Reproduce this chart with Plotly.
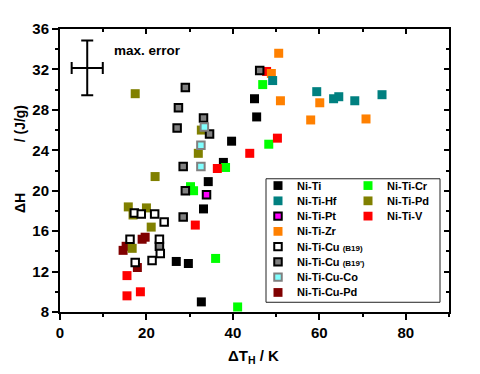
import plotly.graph_objects as go

FONT = "Liberation Sans, Arial, sans-serif"

x_range = [0, 90]
y_range = [8, 36]

# dT_H (K) and dH (J/g) per alloy family
niti_x = [45.0, 45.5, 39.7, 37.8, 34.3, 33.2, 26.9, 29.7, 32.7]
niti_y = [29.1, 27.3, 24.9, 22.8, 20.9, 18.2, 13.0, 12.8, 9.0]

hf_x = [49.2, 59.4, 63.3, 64.5, 68.2, 74.5]
hf_y = [30.9, 29.8, 29.1, 29.3, 28.9, 29.5]

pt_x = [33.9]
pt_y = [19.6]

zr_x = [50.6, 48.9, 51.0, 58.0, 60.1, 70.8]
zr_y = [33.6, 31.6, 28.9, 27.0, 28.7, 27.1]

cr_x = [46.9, 48.3, 38.3, 30.2, 30.9, 36.0, 41.1]
cr_y = [30.5, 24.6, 22.3, 20.4, 20.0, 13.3, 8.5]

pd_x = [17.4, 22.0, 32.0, 32.7, 15.8, 20.0, 16.9, 21.1, 16.7]
pd_y = [29.6, 21.4, 23.7, 26.0, 18.4, 18.3, 17.6, 16.4, 14.3]

v_x = [47.8, 50.3, 43.9, 36.4, 31.3, 15.5, 15.5, 18.6]
v_y = [31.8, 25.2, 23.7, 22.2, 16.6, 11.6, 9.6, 10.0]

cu_b19_x = [17.2, 18.8, 21.9, 24.1, 16.2, 23.0, 23.2, 21.3, 17.4]
cu_b19_y = [17.8, 17.7, 17.7, 16.9, 15.2, 15.2, 13.8, 13.1, 12.9]

cu_b19p_x = [29.0, 27.4, 27.1, 33.2, 34.6, 28.5, 29.0, 46.2, 28.5, 23.0]
cu_b19p_y = [30.2, 28.2, 26.2, 27.2, 25.6, 22.4, 20.0, 31.9, 17.4, 14.5]

cuco_x = [33.4, 32.6, 32.6]
cuco_y = [26.3, 24.5, 22.4]

cupd_x = [19.7, 19.0, 15.3, 14.6, 17.9]
cupd_y = [15.4, 15.2, 14.5, 14.1, 12.4]

# max. error cross
err_x = [6.3]
err_y = [32.15]
err_dx = [3.6]
err_dy = [2.7]

# name, x, y, fill, edge (None = no outline); drawing order
series = [
    ("Ni-Ti", niti_x, niti_y, "#000000", None),
    ("Ni-Ti-Cu-Pd", cupd_x, cupd_y, "#800000", None),
    ("Ni-Ti-Pd", pd_x, pd_y, "#808000", None),
    ("Ni-Ti-Cr", cr_x, cr_y, "#00ff00", None),
    ("Ni-Ti-V", v_x, v_y, "#ff0000", None),
    ("Ni-Ti-Zr", zr_x, zr_y, "#ff8000", None),
    ("Ni-Ti-Hf", hf_x, hf_y, "#008080", None),
    ("Ni-Ti-Pt", pt_x, pt_y, "#ff00ff", "#000000"),
    ("Ni-Ti-Cu (B19')", cu_b19p_x, cu_b19p_y, "#808080", "#000000"),
    ("Ni-Ti-Cu-Co", cuco_x, cuco_y, "#80ffff", "#808080"),
    ("Ni-Ti-Cu (B19)", cu_b19_x, cu_b19_y, "#ffffff", "#000000"),
]
style = {name: (fill, edge) for name, _, _, fill, edge in series}

legend_col1 = ["Ni-Ti", "Ni-Ti-Hf", "Ni-Ti-Pt", "Ni-Ti-Zr", "Ni-Ti-Cu (B19)",
               "Ni-Ti-Cu (B19')", "Ni-Ti-Cu-Co", "Ni-Ti-Cu-Pd"]
legend_col2 = ["Ni-Ti-Cr", "Ni-Ti-Pd", "Ni-Ti-V"]

fig = go.Figure()
for name, xs, ys, fill, edge in series:
    if edge is None:
        marker = dict(symbol="square", size=9, color=fill, line=dict(width=0))
    else:
        marker = dict(symbol="square", size=7.5, color=fill, line=dict(width=2, color=edge))
    fig.add_trace(go.Scatter(x=xs, y=ys, mode="markers", name=name, marker=marker))

fig.add_trace(go.Scatter(
    x=err_x, y=err_y, mode="markers", xaxis="x2", yaxis="y2",
    marker=dict(size=1, color="rgba(0,0,0,0)"),
    error_x=dict(type="data", array=err_dx, color="black", thickness=2, width=6),
    error_y=dict(type="data", array=err_dy, color="black", thickness=2, width=6),
))

# the page body adds an 8px margin, so the figure is 8px smaller than the window
OFF = 8
W, H = 480 - OFF, 374 - OFF
L, T = 60 - OFF, 21 - OFF
pw, ph = 389, 291
R, B = W - L - pw, H - T - ph


def px(x):
    # window pixel -> paper x
    return (x - OFF - L) / pw


def py(y):
    # window pixel -> paper y
    return (T + ph - (y - OFF)) / ph


shapes = [dict(type="rect", xref="paper", yref="paper",
               x0=px(266), x1=px(440), y0=py(302), y1=py(175),
               line=dict(color="#222222", width=1), fillcolor="white", layer="below")]
annotations = []


def legend_entry(name, sx, tx, ry):
    fill, edge = style[name]
    half = 4.5 if edge is None else 3.75
    shapes.append(dict(type="rect", xref="paper", yref="paper",
                       x0=px(sx - half), x1=px(sx + half), y0=py(ry + half), y1=py(ry - half),
                       fillcolor=fill,
                       line=dict(width=0 if edge is None else 2, color=edge or fill)))
    label = name
    if "(" in name:
        base, tail = name.split(" (")
        label = base + " <span style='font-size:8px'>(" + tail + "</span>"
    annotations.append(dict(xref="paper", yref="paper", x=px(tx), y=py(ry), text=label,
                            showarrow=False, xanchor="left", yanchor="middle",
                            font=dict(family=FONT, size=11, color="black", weight="bold")))


for i, name in enumerate(legend_col1):
    legend_entry(name, 278, 295, 182 + 15.7 * i)
for i, name in enumerate(legend_col2):
    legend_entry(name, 368, 385, 182 + 15.7 * i)

annotations.append(dict(x=12.1, y=33.9, xref="x", yref="y", text="max. error", showarrow=False,
                        xanchor="left", yanchor="middle",
                        font=dict(family=FONT, size=13.5, color="black", weight="bold")))
annotations.append(dict(xref="paper", yref="paper", x=px(253), y=py(358),
                        text="ΔT<sub>H</sub> / K", showarrow=False,
                        xanchor="center", yanchor="middle",
                        font=dict(family=FONT, size=15, color="black", weight="bold")))
annotations.append(dict(xref="paper", yref="paper", x=px(20), y=py(200),
                        text="ΔH", showarrow=False, textangle=-90,
                        xanchor="center", yanchor="middle",
                        font=dict(family=FONT, size=14, color="black", weight="bold")))
annotations.append(dict(xref="paper", yref="paper", x=px(20), y=py(119),
                        text="/ (J/g)", showarrow=False, textangle=-90,
                        xanchor="center", yanchor="middle",
                        font=dict(family=FONT, size=14, color="black", weight="bold")))

tickfont = dict(family=FONT, size=15, color="black", weight="bold")
fig.update_layout(
    width=W, height=H,
    margin=dict(l=L, r=R, t=T, b=B),
    plot_bgcolor="white", paper_bgcolor="white",
    showlegend=False,
    shapes=shapes, annotations=annotations,
    xaxis=dict(range=x_range, showline=True, linewidth=2, linecolor="black", mirror=True,
               ticks="outside", ticklen=6, tickwidth=2, tickcolor="black", tick0=0, dtick=20,
               minor=dict(ticks="outside", ticklen=3, tickwidth=1.5, tickcolor="black", dtick=10),
               showgrid=False, zeroline=False, tickfont=tickfont),
    yaxis=dict(range=y_range, showline=True, linewidth=2, linecolor="black", mirror=True,
               ticks="outside", ticklen=6, tickwidth=2, tickcolor="black", tick0=8, dtick=4,
               minor=dict(ticks="outside", ticklen=3, tickwidth=1.5, tickcolor="black", dtick=2),
               showgrid=False, zeroline=False, tickfont=tickfont),
    xaxis2=dict(range=x_range, overlaying="x", side="top", anchor="y2", showline=False,
                ticks="inside", ticklen=5, tickwidth=2, tickcolor="black", tick0=0, dtick=20,
                minor=dict(ticks="inside", ticklen=3, tickwidth=1.5, tickcolor="black", dtick=10),
                showticklabels=False, showgrid=False, zeroline=False),
    yaxis2=dict(range=y_range, overlaying="y", side="right", anchor="x2", showline=False,
                ticks="inside", ticklen=5, tickwidth=2, tickcolor="black", tick0=8, dtick=4,
                minor=dict(ticks="inside", ticklen=3, tickwidth=1.5, tickcolor="black", dtick=2),
                showticklabels=False, showgrid=False, zeroline=False),
)

fig.write_html("out.html")
